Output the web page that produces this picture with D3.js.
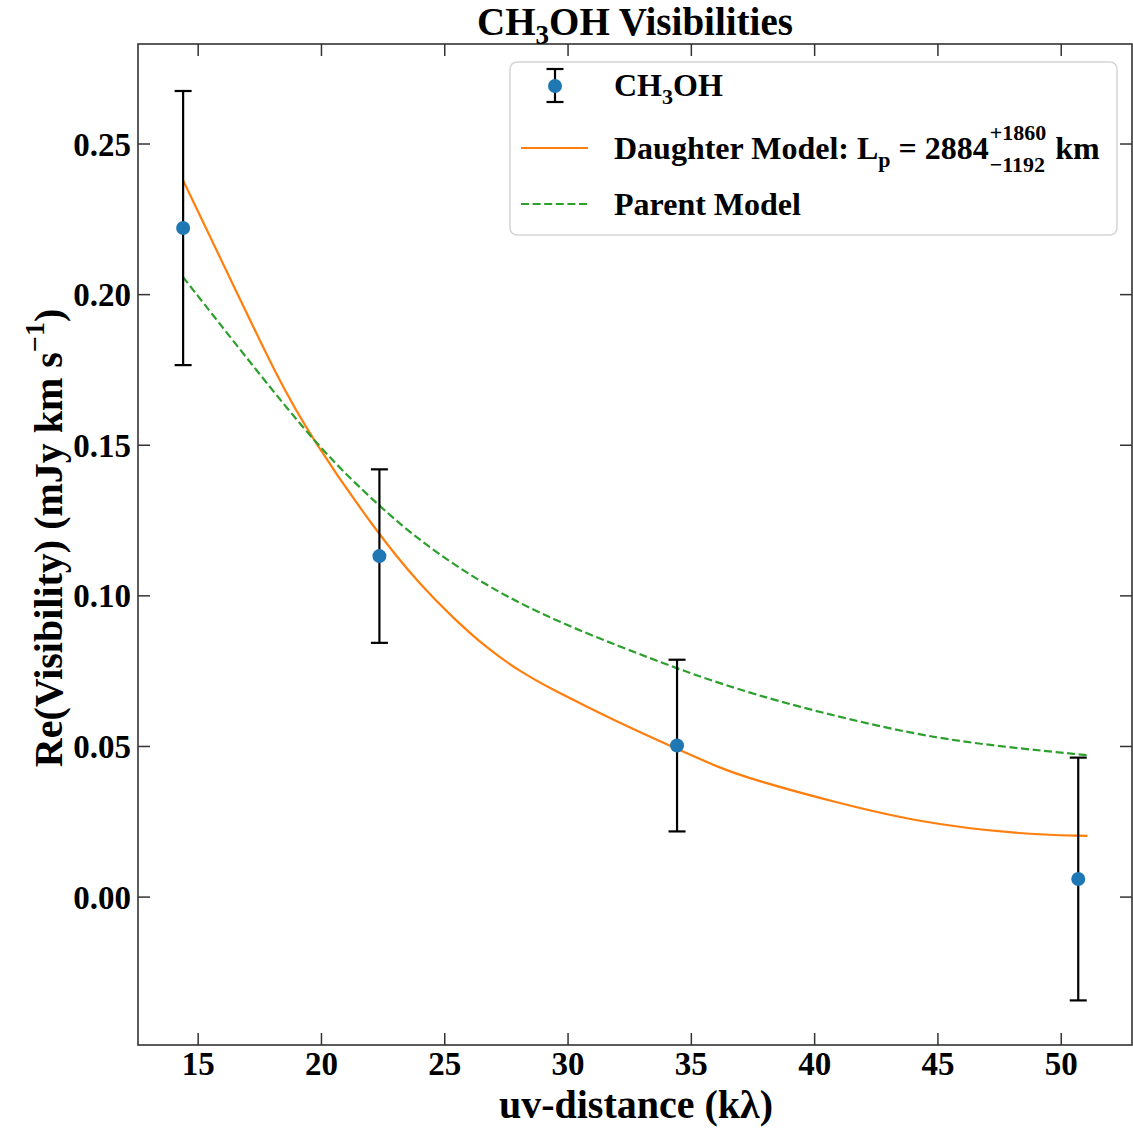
<!DOCTYPE html>
<html>
<head>
<meta charset="utf-8">
<script src="https://cdn.jsdelivr.net/npm/d3@7"></script>
<style>
  html, body { margin: 0; padding: 0; background: #fff; }
  svg { display: block; }
  text { font-family: "Liberation Serif", "Times New Roman", serif; font-weight: bold; fill: #000; }
</style>
</head>
<body>
<svg id="chart" width="1133" height="1128"></svg>
<script>
// ---- data ----
const uvDist = [14.39, 22.35, 34.42, 50.69];
const visibility = [0.2221, 0.1132, 0.0503, 0.0060];
const visErr = [0.0455, 0.0288, 0.0285, 0.0403];

const daughterX = [14.38, 16.78, 18.13, 19.55, 22.32, 24.01, 25.36, 26.71, 28.06, 29.41, 30.77, 32.12, 34.41, 36.17, 37.5, 40.76, 44.16, 48.21, 51.06];
const daughterY = [0.2381, 0.1971, 0.1739, 0.1528, 0.1202, 0.1036, 0.0925, 0.0826, 0.0748, 0.0687, 0.0632, 0.0577, 0.0492, 0.0428, 0.0390, 0.0316, 0.0249, 0.0209, 0.0203];

const parentX = [14.38, 17.19, 20.03, 22.32, 24.01, 26.71, 29.41, 32.12, 34.41, 36.17, 39.01, 44.16, 47.6, 51.06];
const parentY = [0.2059, 0.1766, 0.1478, 0.1300, 0.1180, 0.1030, 0.0920, 0.0831, 0.0759, 0.0709, 0.0637, 0.0536, 0.0499, 0.0471];

const xTicks = [15, 20, 25, 30, 35, 40, 45, 50];
const yTicks = [0.00, 0.05, 0.10, 0.15, 0.20, 0.25];

// ---- layout ----
const L = 138, R = 1132, T = 44, B = 1045;
const svg = d3.select("#chart");

const x = d3.scaleLinear().domain([12.56, 52.87]).range([L, R]);
const y = d3.scaleLinear().domain([-0.0491, 0.2832]).range([B, T]);

const C_BLUE = "#1f77b4", C_ORANGE = "#ff7f0e", C_GREEN = "#2ca02c";

// ---- model lines ----
const line = d3.line().x(d => x(d[0])).y(d => y(d[1])).curve(d3.curveBasis);
svg.append("path")
  .datum(daughterX.map((v, i) => [v, daughterY[i]]))
  .attr("d", line).attr("fill", "none")
  .attr("stroke", C_ORANGE).attr("stroke-width", 2.2);
svg.append("path")
  .datum(parentX.map((v, i) => [v, parentY[i]]))
  .attr("d", line).attr("fill", "none")
  .attr("stroke", C_GREEN).attr("stroke-width", 2.2)
  .attr("stroke-dasharray", "8,3.6");

// ---- error bars & points ----
const pts = uvDist.map((v, i) => ({ u: v, v: visibility[i], e: visErr[i] }));
const eb = svg.append("g");
pts.forEach(p => {
  const cx = x(p.u);
  eb.append("line").attr("x1", cx).attr("x2", cx)
    .attr("y1", y(p.v - p.e)).attr("y2", y(p.v + p.e))
    .attr("stroke", "#000").attr("stroke-width", 2.2);
  [p.v - p.e, p.v + p.e].forEach(val => {
    eb.append("line").attr("x1", cx - 8.5).attr("x2", cx + 8.5)
      .attr("y1", y(val)).attr("y2", y(val))
      .attr("stroke", "#000").attr("stroke-width", 2.2);
  });
  eb.append("circle").attr("cx", cx).attr("cy", y(p.v)).attr("r", 7).attr("fill", C_BLUE);
});

// ---- frame & ticks (inward on all sides) ----
const axisColor = "#333";
svg.append("rect").attr("x", L).attr("y", T).attr("width", R - L).attr("height", B - T)
  .attr("fill", "none").attr("stroke", axisColor).attr("stroke-width", 1.6);

const tk = 12;
const tg = svg.append("g").attr("stroke", axisColor).attr("stroke-width", 1.5);
xTicks.forEach(t => {
  tg.append("line").attr("x1", x(t)).attr("x2", x(t)).attr("y1", B).attr("y2", B - tk);
  tg.append("line").attr("x1", x(t)).attr("x2", x(t)).attr("y1", T).attr("y2", T + tk);
});
yTicks.forEach(t => {
  tg.append("line").attr("x1", L).attr("x2", L + tk).attr("y1", y(t)).attr("y2", y(t));
  tg.append("line").attr("x1", R).attr("x2", R - tk).attr("y1", y(t)).attr("y2", y(t));
});

// tick labels
svg.append("g").selectAll("text").data(xTicks).join("text")
  .attr("x", d => x(d)).attr("y", 1075).attr("text-anchor", "middle")
  .attr("font-size", 33).text(d => d);
svg.append("g").selectAll("text").data(yTicks).join("text")
  .attr("x", 131).attr("y", d => y(d) + 11.5).attr("text-anchor", "end")
  .attr("font-size", 33).text(d => d3.format(".2f")(d));

// ---- axis labels & title ----
svg.append("text").attr("x", 636).attr("y", 1118).attr("text-anchor", "middle")
  .attr("font-size", 40).text("uv-distance (kλ)");

const yl = svg.append("text").attr("transform", "translate(62,538) rotate(-90)")
  .attr("text-anchor", "middle").attr("font-size", 40);
yl.append("tspan").text("Re(Visibility) (mJy km s");
yl.append("tspan").attr("dy", -18).attr("font-size", 28).text("−1");
yl.append("tspan").attr("dy", 18).text(")");

const tt = svg.append("text").attr("x", 635).attr("y", 35).attr("text-anchor", "middle").attr("font-size", 39);
tt.append("tspan").text("CH");
tt.append("tspan").attr("dy", 9).attr("font-size", 27).text("3");
tt.append("tspan").attr("dy", -9).text("OH Visibilities");

// ---- legend ----
const lg = svg.append("g");
lg.append("rect").attr("x", 510).attr("y", 62).attr("width", 607).attr("height", 173)
  .attr("rx", 7).attr("fill", "#fff").attr("fill-opacity", 0.8)
  .attr("stroke", "#d5d5d5").attr("stroke-width", 1.5);

// entry 1: errorbar marker
const mx = 555, my = 86;
lg.append("line").attr("x1", mx).attr("x2", mx).attr("y1", 69).attr("y2", 102).attr("stroke", "#000").attr("stroke-width", 2.2);
lg.append("line").attr("x1", mx - 8.5).attr("x2", mx + 8.5).attr("y1", 69).attr("y2", 69).attr("stroke", "#000").attr("stroke-width", 2.2);
lg.append("line").attr("x1", mx - 8.5).attr("x2", mx + 8.5).attr("y1", 102).attr("y2", 102).attr("stroke", "#000").attr("stroke-width", 2.2);
lg.append("circle").attr("cx", mx).attr("cy", my).attr("r", 7).attr("fill", C_BLUE);
const t1 = lg.append("text").attr("x", 614).attr("y", 96).attr("font-size", 32);
t1.append("tspan").text("CH");
t1.append("tspan").attr("dy", 8).attr("font-size", 22).text("3");
t1.append("tspan").attr("dy", -8).text("OH");

// entry 2: daughter
lg.append("line").attr("x1", 521).attr("x2", 588).attr("y1", 148).attr("y2", 148)
  .attr("stroke", C_ORANGE).attr("stroke-width", 2.2);
const base2 = 159;
const t2 = lg.append("text").attr("x", 614).attr("y", base2).attr("font-size", 32);
t2.append("tspan").text("Daughter Model: L");
t2.append("tspan").attr("dy", 8).attr("font-size", 22).text("p");
t2.append("tspan").attr("dy", -8).text(" = 2884");
const w2 = t2.node().getComputedTextLength();
const sx = 614 + w2 + 1;
const sup = lg.append("text").attr("x", sx).attr("y", base2 - 19).attr("font-size", 22).text("+1860");
const sub = lg.append("text").attr("x", sx).attr("y", base2 + 13).attr("font-size", 22).text("−1192");
const sw = Math.max(sup.node().getComputedTextLength(), sub.node().getComputedTextLength());
lg.append("text").attr("x", sx + sw + 9).attr("y", base2).attr("font-size", 32).text("km");

// entry 3: parent
lg.append("line").attr("x1", 521).attr("x2", 588).attr("y1", 204).attr("y2", 204)
  .attr("stroke", C_GREEN).attr("stroke-width", 2.2).attr("stroke-dasharray", "8,3.6");
lg.append("text").attr("x", 614).attr("y", 215).attr("font-size", 32).text("Parent Model");
</script>
</body>
</html>
